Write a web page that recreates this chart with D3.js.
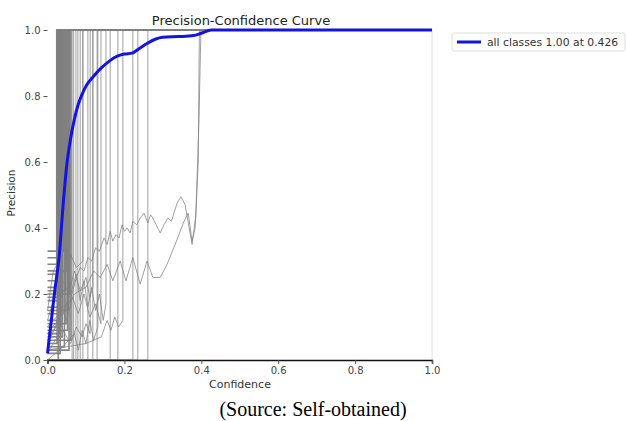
<!DOCTYPE html>
<html>
<head>
<meta charset="utf-8">
<script src="https://cdn.jsdelivr.net/npm/d3@7"></script>
<style>
	body { margin: 0; background: #fff; }
	svg { display: block; }
	.tick text { font-family: "DejaVu Sans", sans-serif; font-size: 10px; fill: #444; }
</style>
</head>
<body>
<svg id="pc-vis" width="627" height="421"></svg>
<script>
// all classes curve
const blueConf = [0, 0.01, 0.02, 0.03, 0.04, 0.05, 0.06, 0.07, 0.08, 0.09, 0.10, 0.12, 0.14, 0.16, 0.18, 0.20, 0.22, 0.24, 0.26, 0.28, 0.30, 0.34, 0.38, 0.40, 0.426, 1.0];
const bluePrec = [0.02, 0.12, 0.22, 0.31, 0.46, 0.59, 0.67, 0.73, 0.775, 0.805, 0.83, 0.86, 0.885, 0.905, 0.92, 0.927, 0.93, 0.945, 0.96, 0.972, 0.978, 0.98, 0.983, 0.99, 1.0, 1.0];

// classes that sit low and then jump straight to 1
const stepJumps = [0.024, 0.025, 0.026, 0.027, 0.028, 0.029, 0.030, 0.031, 0.032, 0.033, 0.034, 0.035, 0.036, 0.037, 0.038, 0.040, 0.042, 0.044, 0.046, 0.048, 0.050, 0.052, 0.054, 0.056, 0.058, 0.061,
	0.064, 0.068, 0.074, 0.079, 0.085, 0.092, 0.105, 0.118, 0.129, 0.163, 0.183, 0.222, 0.235, 0.261];
const stepBase = [0.22, 0.05, 0.31, 0.12, 0.0, 0.18, 0.26, 0.08, 0.14, 0.02, 0.29, 0.1, 0.19, 0.24, 0.07, 0.16, 0.33, 0.04, 0.21, 0.11, 0.27, 0.09, 0.15, 0.03, 0.2, 0.06,
	0, 0, 0, 0, 0, 0, 0, 0, 0, 0, 0, 0, 0, 0];

// classes with a visible jagged curve
const curveAConf = [0, 0.03, 0.059, 0.075, 0.085, 0.095, 0.105, 0.115, 0.125, 0.135, 0.147, 0.155, 0.163, 0.17, 0.178, 0.186, 0.194, 0.2, 0.207, 0.215, 0.222, 0.232, 0.241, 0.251, 0.261, 0.268, 0.274, 0.293, 0.303, 0.313, 0.322, 0.337, 0.347, 0.358, 0.376, 0.386, 0.394, 0.399, 1];
const curveAPrec = [0.1, 0.14, 0.18, 0.25, 0.28, 0.27, 0.31, 0.3, 0.34, 0.33, 0.37, 0.35, 0.39, 0.36, 0.38, 0.37, 0.41, 0.39, 0.40, 0.385, 0.42, 0.41, 0.43, 0.445, 0.415, 0.44, 0.43, 0.385, 0.41, 0.43, 0.42, 0.475, 0.495, 0.47, 0.35, 0.44, 0.73, 1, 1];
const curveBConf = [0, 0.04, 0.07, 0.1, 0.12, 0.137, 0.155, 0.17, 0.189, 0.204, 0.222, 0.241, 0.259, 0.274, 0.293, 0.311, 0.337, 0.353, 0.366, 0.376, 0.384, 0.392, 0.395, 1];
const curveBPrec = [0.08, 0.14, 0.2, 0.22, 0.27, 0.25, 0.29, 0.24, 0.30, 0.24, 0.31, 0.23, 0.30, 0.25, 0.25, 0.29, 0.365, 0.415, 0.445, 0.36, 0.40, 0.6, 1, 1];
const curveCConf = [0, 0.02, 0.035, 0.05, 0.065, 0.08, 0.095, 0.11, 0.125, 0.139, 0.139, 1];
const curveCPrec = [0.06, 0.1, 0.16, 0.12, 0.19, 0.14, 0.2, 0.13, 0.17, 0.11, 1, 1];
const curveDConf = [0, 0.02, 0.04, 0.055, 0.07, 0.085, 0.1, 0.11, 0.118, 0.118, 1];
const curveDPrec = [0.12, 0.2, 0.24, 0.2, 0.27, 0.21, 0.25, 0.19, 0.22, 1, 1];
const curveEConf = [0, 0.1, 0.14, 0.155, 0.165, 0.175, 0.185, 0.196, 0.196, 1];
const curveEPrec = [0.03, 0.05, 0.07, 0.12, 0.09, 0.13, 0.1, 0.12, 1, 1];
const curveFConf = [0, 0.02, 0.04, 0.06, 0.075, 0.09, 0.1, 0.111, 0.111, 1];
const curveFPrec = [0.02, 0.06, 0.09, 0.05, 0.1, 0.07, 0.11, 0.08, 1, 1];
const curveGConf = [0, 0.015, 0.03, 0.045, 0.06, 0.075, 0.092, 0.092, 1];
const curveGPrec = [0.15, 0.27, 0.3, 0.26, 0.32, 0.28, 0.3, 1, 1];
const curveHConf = [0, 0.03, 0.06, 0.075, 0.085, 0.095, 0.105, 0.115, 0.125, 0.135, 0.145, 0.152, 0.152, 1];
const curveHPrec = [0.05, 0.12, 0.2, 0.26, 0.18, 0.24, 0.16, 0.22, 0.15, 0.2, 0.12, 0.17, 1, 1];
const curveIConf = [0, 0.04, 0.07, 0.08, 0.09, 0.1, 0.11, 0.12, 0.131, 0.131, 1];
const curveIPrec = [0.0, 0.04, 0.08, 0.03, 0.09, 0.05, 0.12, 0.06, 0.1, 1, 1];

const xTicks = [0, 0.2, 0.4, 0.6, 0.8, 1.0];
const yTicks = [0, 0.2, 0.4, 0.6, 0.8, 1.0];
const legendLabel = "all classes 1.00 at 0.426";

const svg = d3.select("svg#pc-vis");
const bounds = { minX: 47.5, maxX: 432, minY: 30, maxY: 360 };

const scaleX = d3.scaleLinear().domain([0, 1]).range([bounds.minX, bounds.maxX]);
const scaleY = d3.scaleLinear().domain([0, 1]).range([bounds.maxY, bounds.minY]);

const toPoints = (cs, ps) => cs.map((c, i) => [c, ps[i]]);
const line = d3.line().x(d => scaleX(d[0])).y(d => scaleY(d[1]));

// gray per-class curves; the crowded low-confidence ones get a heavier stroke
let classCurves = stepJumps.map((j, i) => ({
	pts: [[0, stepBase[i]], [j, stepBase[i]], [j, 1], [1, 1]],
	band: j < 0.062,
}));
[
	[curveAConf, curveAPrec], [curveBConf, curveBPrec], [curveCConf, curveCPrec],
	[curveDConf, curveDPrec], [curveEConf, curveEPrec], [curveFConf, curveFPrec],
	[curveGConf, curveGPrec], [curveHConf, curveHPrec], [curveIConf, curveIPrec],
].forEach(([cs, ps]) => classCurves.push({ pts: toPoints(cs, ps), band: false }));

svg.append("g").attr("id", "class-lines")
	.selectAll("path")
	.data(classCurves)
	.join("path")
	.attr("d", d => line(d.pts))
	.attr("fill", "none")
	.attr("stroke", "#808080")
	.attr("stroke-opacity", d => d.band ? 0.95 : 0.75)
	.attr("stroke-width", d => d.band ? 1.6 : 1);

// right spine
svg.append("line")
	.attr("x1", bounds.maxX).attr("x2", bounds.maxX)
	.attr("y1", bounds.minY).attr("y2", bounds.maxY)
	.attr("stroke", "#e2e2e2");

// all classes curve
svg.append("path")
	.datum(toPoints(blueConf, bluePrec))
	.attr("d", d3.line().curve(d3.curveMonotoneX).x(d => scaleX(d[0])).y(d => scaleY(d[1])))
	.attr("fill", "none")
	.attr("stroke", "#1414e0")
	.attr("stroke-width", 3)
	.attr("stroke-linejoin", "round");

// axes
const xAxis = d3.axisBottom(scaleX).tickValues(xTicks).tickFormat(d3.format(".1f")).tickSize(4).tickPadding(3);
const gx = svg.append("g").attr("transform", `translate(0 ${bounds.maxY})`).call(xAxis);
gx.select(".domain").attr("stroke", "#111").attr("stroke-width", 1.5);
gx.selectAll(".tick line").attr("stroke", "#555");

const yAxis = d3.axisLeft(scaleY).tickValues(yTicks).tickFormat(d3.format(".1f")).tickSize(4).tickPadding(3);
const gy = svg.append("g").attr("transform", `translate(${bounds.minX} 0)`).call(yAxis);
gy.select(".domain").remove();
gy.selectAll(".tick line").attr("stroke", "#555");

// titles
svg.append("text")
	.attr("x", 241).attr("y", 25)
	.attr("text-anchor", "middle")
	.style("font-family", "DejaVu Sans, sans-serif").style("font-size", "13px").style("fill", "#222")
	.text("Precision-Confidence Curve");

svg.append("text")
	.attr("x", 240).attr("y", 388)
	.attr("text-anchor", "middle")
	.style("font-family", "DejaVu Sans, sans-serif").style("font-size", "11px").style("fill", "#333")
	.text("Confidence");

svg.append("text")
	.attr("transform", "translate(15 193) rotate(-90)")
	.attr("text-anchor", "middle")
	.style("font-family", "DejaVu Sans, sans-serif").style("font-size", "10.5px").style("fill", "#333")
	.text("Precision");

// legend
const lg = svg.append("g").attr("transform", "translate(452 33)");
lg.append("rect")
	.attr("width", 173).attr("height", 18).attr("rx", 2)
	.attr("fill", "#fff").attr("stroke", "#ddd");
lg.append("line")
	.attr("x1", 5).attr("x2", 29).attr("y1", 9).attr("y2", 9)
	.attr("stroke", "#1414e0").attr("stroke-width", 3);
lg.append("text")
	.attr("x", 35).attr("y", 13)
	.style("font-family", "DejaVu Sans, sans-serif").style("font-size", "10.8px").style("fill", "#333")
	.text(legendLabel);

// caption
svg.append("text")
	.attr("x", 313).attr("y", 416)
	.attr("text-anchor", "middle")
	.style("font-family", "Liberation Serif, Times New Roman, serif").style("font-size", "20px").style("fill", "#000")
	.text("(Source: Self-obtained)");
</script>
</body>
</html>
